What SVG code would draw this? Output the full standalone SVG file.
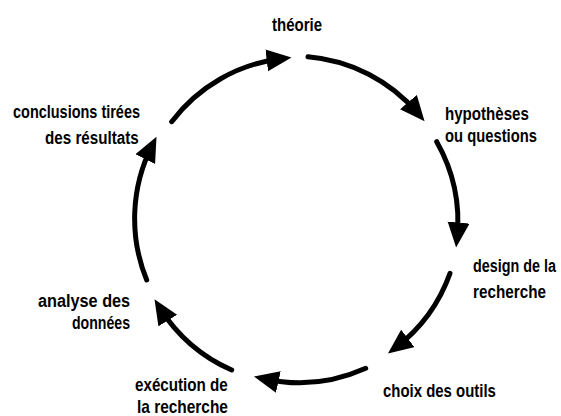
<svg xmlns="http://www.w3.org/2000/svg" width="561" height="416" viewBox="0 0 561 416">
<defs>
<marker id="ah" markerUnits="userSpaceOnUse" markerWidth="28" markerHeight="24" viewBox="0 0 28 24" refX="15" refY="11" orient="auto">
<path d="M0,0 L25,11 L0,22 Z" fill="#000"/>
</marker>
<style>
.lbl{font-family:"Liberation Sans",Arial,sans-serif;font-size:19px;font-weight:bold;fill:#000}
.arc{fill:none;stroke:#000;stroke-width:5;stroke-linecap:round;marker-end:url(#ah)}
</style>
</defs>
<rect width="561" height="416" fill="#fff"/>
<g id="connectors">
<path class="arc" d="M171.7,121.7 A162,162 0 0 1 281.6,58.6"/>
<path class="arc" d="M308,56.7 A162,162 0 0 1 418.1,113.5"/>
<path class="arc" d="M436.7,141.7 A162,162 0 0 1 457.1,237.5"/>
<path class="arc" d="M450,273.3 A162,162 0 0 1 395.9,347.5"/>
<path class="arc" d="M365.7,368.3 A162,162 0 0 1 263.7,378.7"/>
<path class="arc" d="M231.7,370 A162,162 0 0 1 159.8,307.8"/>
<path class="arc" d="M146.7,280 A162,162 0 0 1 152,145.7"/>
</g>
<g id="theorie"><text class="lbl" transform="translate(272,31) scale(0.79,1)">théorie</text></g>
<g id="hypotheses"><text class="lbl" transform="translate(445,120) scale(0.795,1)">hypothèses</text><text class="lbl" transform="translate(445,142) scale(0.778,1)">ou questions</text></g>
<g id="design"><text class="lbl" transform="translate(473,272) scale(0.756,1)">design de la</text><text class="lbl" transform="translate(473,298) scale(0.804,1)">recherche</text></g>
<g id="choix"><text class="lbl" transform="translate(383,397) scale(0.787,1)">choix des outils</text></g>
<g id="execution"><text class="lbl" transform="translate(135,391) scale(0.8,1)">exécution de</text><text class="lbl" transform="translate(137,413) scale(0.813,1)">la recherche</text></g>
<g id="analyse"><text class="lbl" transform="translate(38,307) scale(0.856,1)">analyse des</text><text class="lbl" transform="translate(72,329) scale(0.743,1)">données</text></g>
<g id="conclusions"><text class="lbl" transform="translate(13,118) scale(0.762,1)">conclusions tirées</text><text class="lbl" transform="translate(45,144) scale(0.8,1)">des résultats</text></g>
</svg>
